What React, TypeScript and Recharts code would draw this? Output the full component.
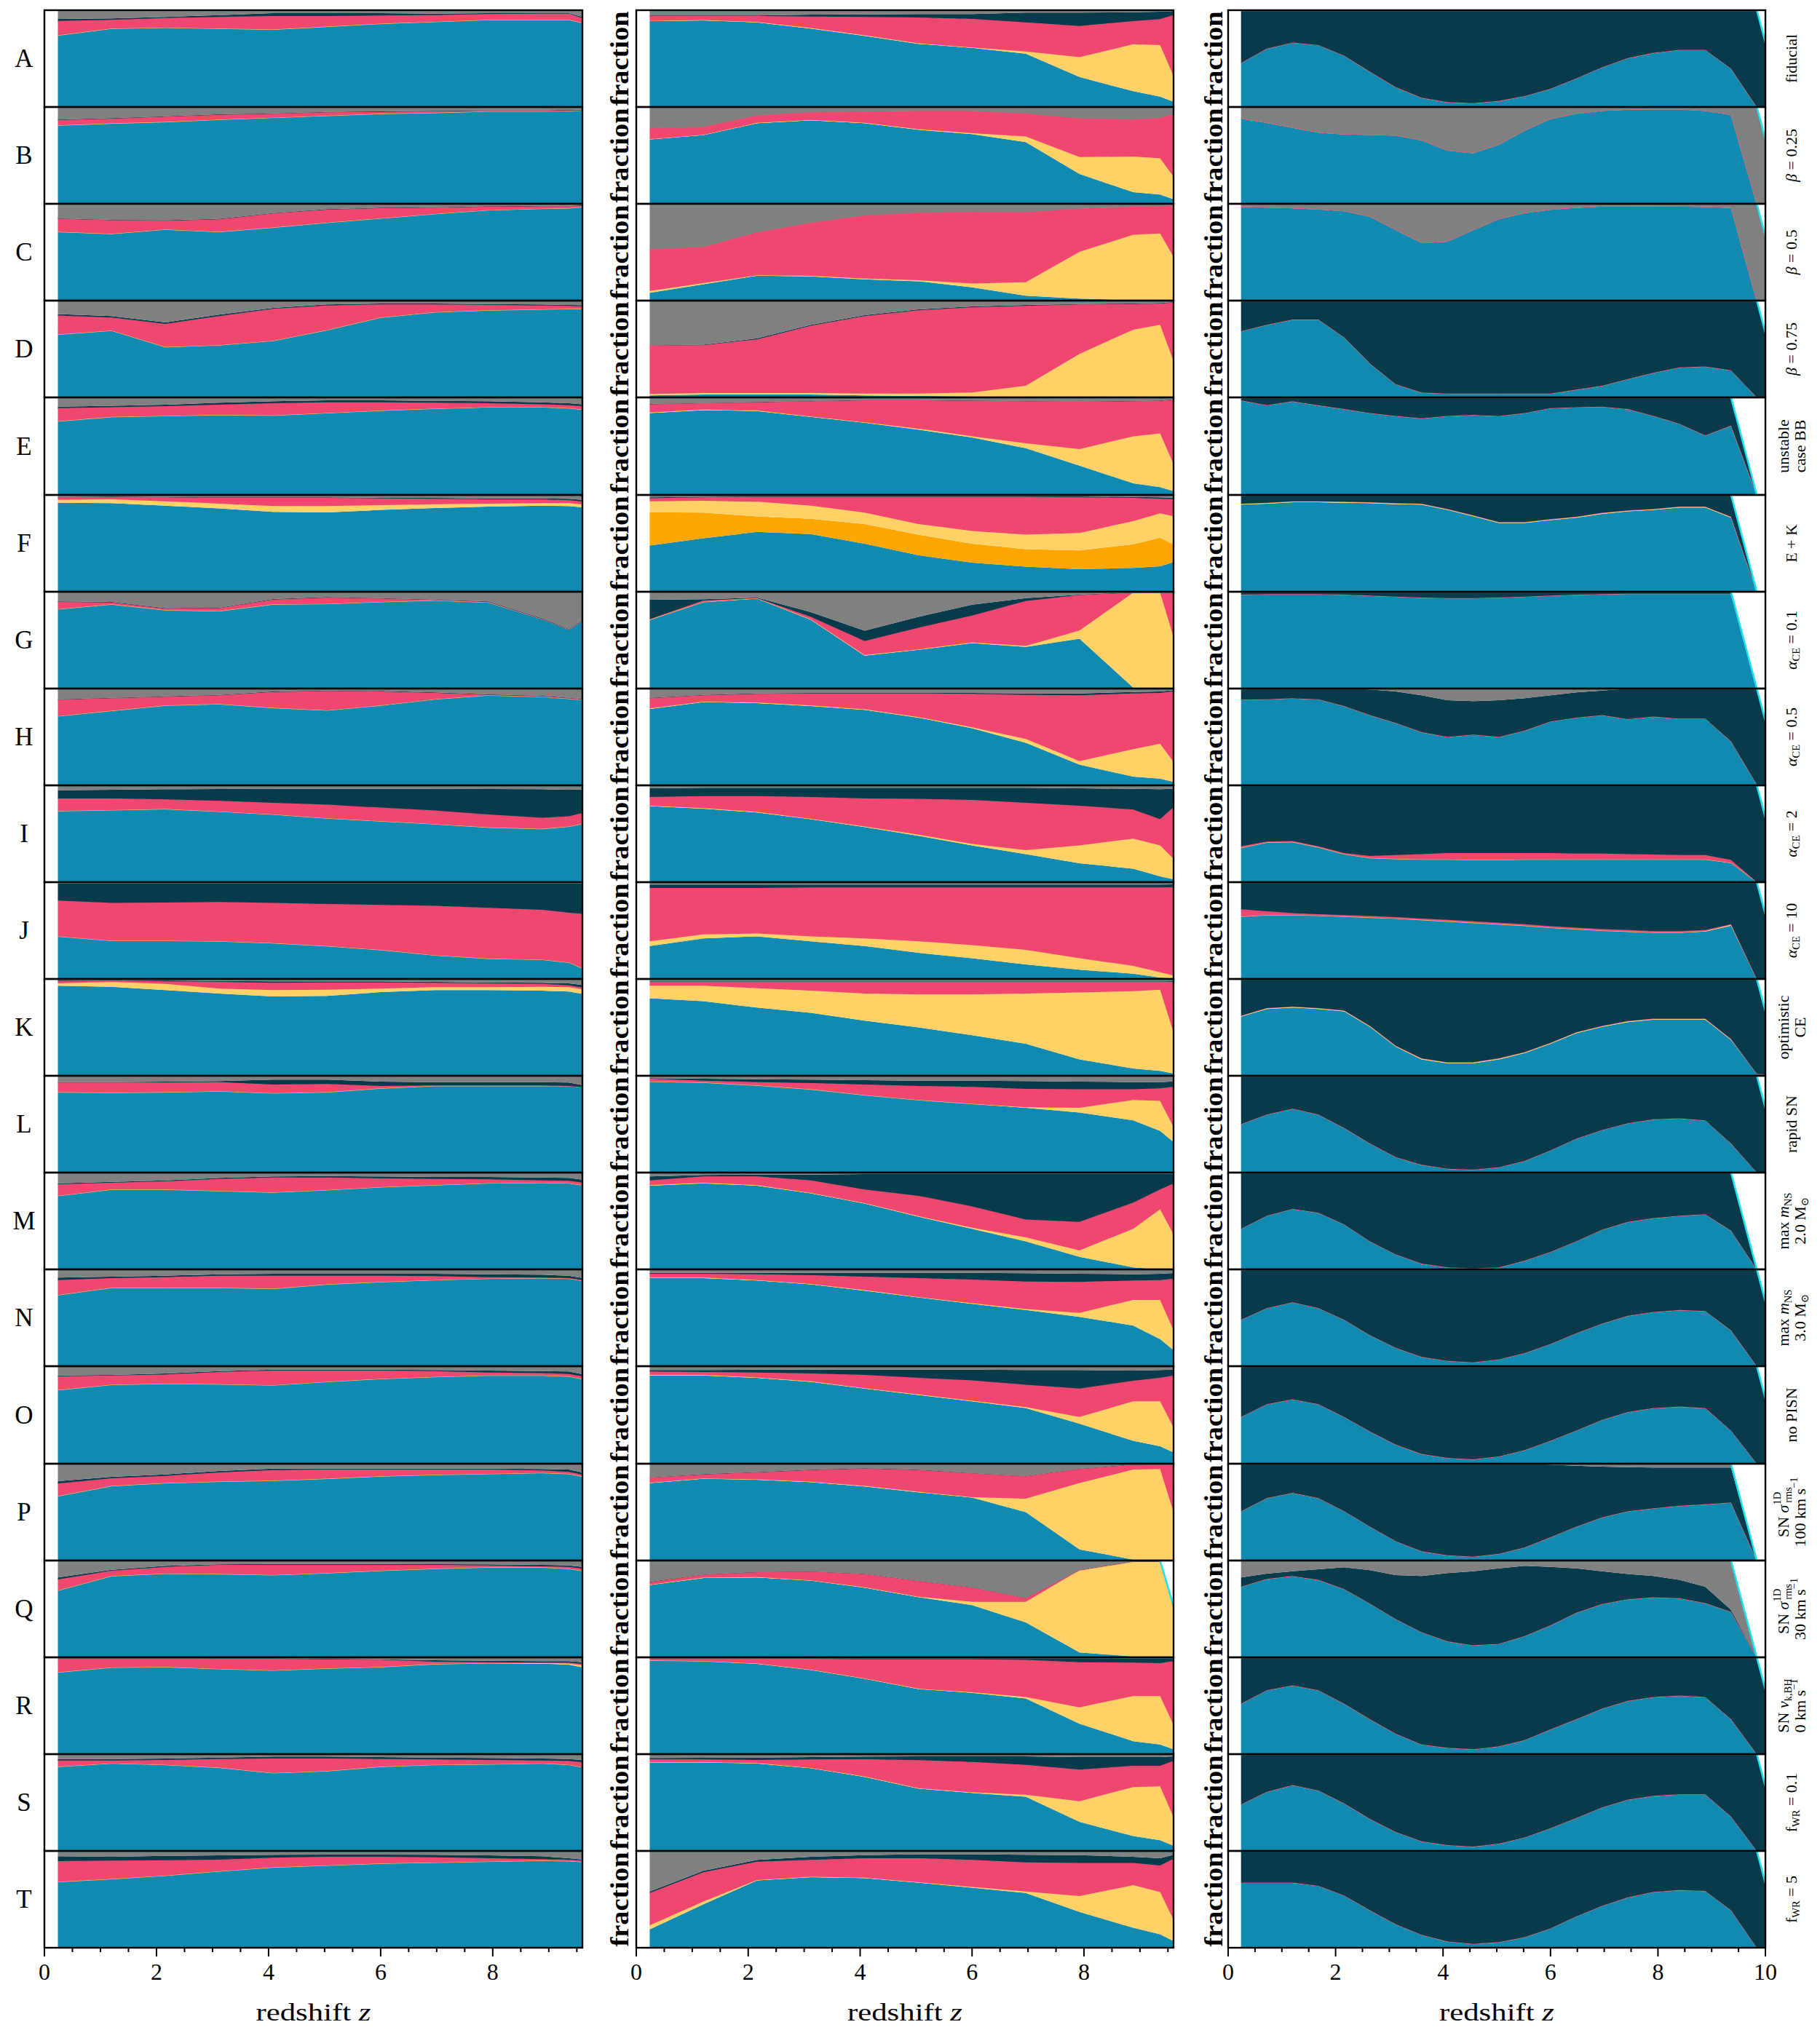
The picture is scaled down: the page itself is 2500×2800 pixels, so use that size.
import React from 'react';
import { AreaChart, Area, XAxis, YAxis } from 'recharts';

// redshift grids (cols 1-2 coarse, col 3 fine)
const Z1 = [0.24, 1.2, 2.16, 3.12, 4.08, 5.04, 6.0, 6.96, 7.92, 8.88, 9.36, 9.84];
const Z3 = [0.24, 0.72, 1.2, 1.68, 2.16, 2.64, 3.12, 3.6, 4.08, 4.56, 5.04, 5.52, 6.0, 6.48, 6.96, 7.44, 7.92, 8.4, 8.88, 9.36, 9.84, 10.32];

const TICKS_96 = [0, 0.5, 1, 1.5, 2, 2.5, 3, 3.5, 4, 4.5, 5, 5.5, 6, 6.5, 7, 7.5, 8, 8.5, 9, 9.5];
const TICKS_10 = [0, 0.5, 1, 1.5, 2, 2.5, 3, 3.5, 4, 4.5, 5, 5.5, 6, 6.5, 7, 7.5, 8, 8.5, 9, 9.5, 10];

const ROW_LETTERS = ['A', 'B', 'C', 'D', 'E', 'F', 'G', 'H', 'I', 'J', 'K', 'L', 'M', 'N', 'O', 'P', 'Q', 'R', 'S', 'T'];

// stacked tops: b = blue, o = orange, y = yellow, p = pink, d = dark, g = total
type Panel = { b: number[]; o?: number[]; y?: number[]; p?: number[]; d?: number[]; g?: number[] };

// column 1
const c1A: Panel = { b: [0.74, 0.81, 0.82, 0.81, 0.80, 0.83, 0.86, 0.88, 0.90, 0.90, 0.90, 0.84], p: [0.89, 0.90, 0.92, 0.93, 0.94, 0.94, 0.945, 0.95, 0.96, 0.965, 0.965, 0.87], d: [0.91, 0.915, 0.93, 0.95, 0.97, 0.97, 0.97, 0.965, 0.97, 0.97, 0.97, 0.89] };
const c1B: Panel = { b: [0.81, 0.83, 0.845, 0.87, 0.89, 0.91, 0.93, 0.94, 0.955, 0.955, 0.96, 0.97], p: [0.865, 0.88, 0.90, 0.92, 0.93, 0.945, 0.95, 0.955, 0.96, 0.96, 0.965, 0.97], d: [0.87, 0.885, 0.905, 0.925, 0.935, 0.95, 0.955, 0.96, 0.965, 0.965, 0.97, 0.975] };
const c1C: Panel = { b: [0.71, 0.69, 0.735, 0.71, 0.755, 0.805, 0.85, 0.895, 0.935, 0.95, 0.955, 0.98], p: [0.845, 0.83, 0.825, 0.84, 0.90, 0.94, 0.955, 0.96, 0.97, 0.975, 0.975, 0.985], d: [0.85, 0.835, 0.83, 0.845, 0.905, 0.945, 0.96, 0.965, 0.975, 0.98, 0.98, 0.99] };
const c1D: Panel = { b: [0.65, 0.69, 0.52, 0.54, 0.585, 0.695, 0.825, 0.88, 0.90, 0.91, 0.915, 0.915], p: [0.845, 0.825, 0.76, 0.84, 0.915, 0.95, 0.96, 0.96, 0.955, 0.95, 0.945, 0.94], d: [0.86, 0.84, 0.775, 0.855, 0.925, 0.96, 0.97, 0.97, 0.965, 0.96, 0.955, 0.95] };
const c1E: Panel = { b: [0.755, 0.80, 0.81, 0.82, 0.815, 0.84, 0.865, 0.885, 0.90, 0.90, 0.89, 0.86], p: [0.89, 0.90, 0.91, 0.925, 0.94, 0.95, 0.95, 0.945, 0.94, 0.93, 0.92, 0.90], d: [0.905, 0.915, 0.925, 0.945, 0.96, 0.97, 0.97, 0.965, 0.96, 0.95, 0.94, 0.92] };
const c1F: Panel = { b: [0.92, 0.915, 0.89, 0.86, 0.825, 0.82, 0.845, 0.865, 0.88, 0.89, 0.885, 0.86], y: [0.95, 0.955, 0.935, 0.91, 0.885, 0.885, 0.895, 0.905, 0.91, 0.915, 0.915, 0.89], p: [0.975, 0.98, 0.975, 0.97, 0.97, 0.97, 0.965, 0.96, 0.955, 0.955, 0.945, 0.92], d: [0.98, 0.985, 0.98, 0.975, 0.975, 0.975, 0.97, 0.97, 0.965, 0.965, 0.96, 0.94] };
const c1G: Panel = { b: [0.82, 0.87, 0.81, 0.80, 0.87, 0.875, 0.895, 0.91, 0.89, 0.72, 0.61, 0.79], p: [0.895, 0.89, 0.825, 0.83, 0.92, 0.94, 0.93, 0.915, 0.895, 0.72, 0.61, 0.79], d: [0.90, 0.895, 0.83, 0.835, 0.925, 0.945, 0.935, 0.92, 0.90, 0.725, 0.615, 0.795] };
const c1H: Panel = { b: [0.715, 0.77, 0.825, 0.84, 0.80, 0.775, 0.825, 0.89, 0.93, 0.915, 0.895, 0.87], p: [0.885, 0.90, 0.915, 0.93, 0.965, 0.975, 0.97, 0.955, 0.935, 0.92, 0.90, 0.875], d: [0.89, 0.905, 0.92, 0.935, 0.97, 0.98, 0.975, 0.96, 0.94, 0.925, 0.905, 0.88] };
const c1I: Panel = { b: [0.735, 0.745, 0.755, 0.73, 0.70, 0.66, 0.63, 0.60, 0.565, 0.55, 0.575, 0.63], p: [0.865, 0.865, 0.855, 0.84, 0.82, 0.80, 0.77, 0.74, 0.70, 0.665, 0.68, 0.75], d: [0.95, 0.955, 0.96, 0.962, 0.965, 0.965, 0.965, 0.965, 0.962, 0.96, 0.955, 0.96] };
const c1J: Panel = { b: [0.44, 0.395, 0.395, 0.39, 0.37, 0.34, 0.30, 0.245, 0.21, 0.20, 0.17, 0.05], p: [0.81, 0.785, 0.79, 0.795, 0.785, 0.775, 0.765, 0.755, 0.735, 0.715, 0.685, 0.66], d: [0.985, 0.985, 0.985, 0.985, 0.985, 0.985, 0.985, 0.985, 0.985, 0.985, 0.985, 0.985] };
const c1K: Panel = { b: [0.93, 0.92, 0.885, 0.85, 0.82, 0.825, 0.865, 0.885, 0.885, 0.88, 0.87, 0.82], y: [0.955, 0.97, 0.95, 0.90, 0.885, 0.89, 0.90, 0.915, 0.915, 0.92, 0.915, 0.87], p: [0.98, 0.985, 0.975, 0.97, 0.96, 0.965, 0.965, 0.96, 0.955, 0.95, 0.935, 0.89], d: [0.985, 0.99, 0.985, 0.98, 0.975, 0.975, 0.975, 0.97, 0.965, 0.96, 0.955, 0.92] };
const c1L: Panel = { b: [0.83, 0.825, 0.83, 0.84, 0.82, 0.83, 0.87, 0.895, 0.895, 0.895, 0.895, 0.87], p: [0.93, 0.93, 0.93, 0.935, 0.91, 0.915, 0.895, 0.90, 0.90, 0.90, 0.895, 0.87], d: [0.935, 0.935, 0.94, 0.945, 0.96, 0.96, 0.94, 0.935, 0.935, 0.935, 0.93, 0.88] };
const c1M: Panel = { b: [0.76, 0.825, 0.825, 0.81, 0.795, 0.82, 0.85, 0.87, 0.89, 0.895, 0.89, 0.85], p: [0.88, 0.895, 0.91, 0.935, 0.95, 0.95, 0.94, 0.935, 0.93, 0.92, 0.915, 0.88], d: [0.89, 0.905, 0.92, 0.945, 0.96, 0.965, 0.96, 0.955, 0.955, 0.95, 0.945, 0.91] };
const c1N: Panel = { b: [0.735, 0.81, 0.81, 0.81, 0.80, 0.845, 0.87, 0.89, 0.905, 0.91, 0.905, 0.86], p: [0.89, 0.91, 0.92, 0.935, 0.935, 0.935, 0.935, 0.93, 0.92, 0.915, 0.91, 0.87], d: [0.915, 0.925, 0.935, 0.95, 0.955, 0.955, 0.955, 0.955, 0.95, 0.945, 0.935, 0.89] };
const c1O: Panel = { b: [0.755, 0.81, 0.82, 0.815, 0.805, 0.84, 0.87, 0.89, 0.905, 0.905, 0.895, 0.84], p: [0.895, 0.905, 0.915, 0.94, 0.955, 0.955, 0.955, 0.95, 0.935, 0.93, 0.92, 0.87], d: [0.905, 0.91, 0.925, 0.95, 0.965, 0.965, 0.965, 0.96, 0.955, 0.95, 0.945, 0.89] };
const c1P: Panel = { b: [0.665, 0.77, 0.80, 0.815, 0.825, 0.845, 0.87, 0.885, 0.895, 0.905, 0.895, 0.84], p: [0.795, 0.85, 0.875, 0.91, 0.935, 0.94, 0.94, 0.94, 0.94, 0.93, 0.915, 0.86], d: [0.82, 0.865, 0.89, 0.925, 0.95, 0.95, 0.95, 0.95, 0.95, 0.945, 0.94, 0.88] };
const c1Q: Panel = { b: [0.69, 0.84, 0.865, 0.86, 0.85, 0.87, 0.895, 0.915, 0.93, 0.93, 0.915, 0.87], p: [0.805, 0.895, 0.935, 0.955, 0.955, 0.955, 0.955, 0.955, 0.95, 0.94, 0.935, 0.90], d: [0.825, 0.905, 0.945, 0.96, 0.965, 0.965, 0.965, 0.962, 0.96, 0.955, 0.95, 0.92] };
const c1R: Panel = { b: [0.845, 0.895, 0.90, 0.88, 0.865, 0.885, 0.90, 0.93, 0.94, 0.935, 0.925, 0.87], y: [0.845, 0.895, 0.90, 0.88, 0.865, 0.885, 0.90, 0.93, 0.94, 0.94, 0.935, 0.90], p: [0.99, 0.99, 0.99, 0.985, 0.985, 0.98, 0.975, 0.955, 0.95, 0.945, 0.945, 0.92], d: [0.992, 0.992, 0.992, 0.99, 0.99, 0.985, 0.98, 0.97, 0.965, 0.96, 0.96, 0.94] };
const c1S: Panel = { b: [0.87, 0.905, 0.89, 0.86, 0.805, 0.825, 0.87, 0.89, 0.895, 0.905, 0.89, 0.84], p: [0.935, 0.935, 0.94, 0.95, 0.955, 0.955, 0.95, 0.945, 0.94, 0.935, 0.93, 0.90], d: [0.95, 0.95, 0.955, 0.965, 0.975, 0.975, 0.97, 0.965, 0.96, 0.955, 0.95, 0.93] };
const c1T: Panel = { b: [0.68, 0.71, 0.745, 0.79, 0.83, 0.85, 0.87, 0.88, 0.89, 0.90, 0.895, 0.88], p: [0.895, 0.90, 0.905, 0.91, 0.93, 0.94, 0.94, 0.935, 0.925, 0.915, 0.91, 0.89], d: [0.945, 0.94, 0.95, 0.955, 0.96, 0.962, 0.962, 0.96, 0.955, 0.945, 0.925, 0.90] };

// column 2
const c2A: Panel = { b: [0.887, 0.895, 0.875, 0.81, 0.735, 0.653, 0.61, 0.55, 0.31, 0.163, 0.108, 0], y: [0.89, 0.898, 0.878, 0.815, 0.74, 0.658, 0.615, 0.573, 0.515, 0.648, 0.64, 0], p: [0.94, 0.94, 0.94, 0.935, 0.93, 0.925, 0.91, 0.875, 0.837, 0.887, 0.907, 0.99], d: [0.945, 0.945, 0.945, 0.955, 0.957, 0.96, 0.96, 0.975, 0.975, 0.98, 0.985, 0.995] };
const c2B: Panel = { b: [0.665, 0.71, 0.833, 0.863, 0.833, 0.765, 0.72, 0.638, 0.308, 0.12, 0.095, 0], y: [0.668, 0.713, 0.836, 0.866, 0.836, 0.77, 0.73, 0.695, 0.483, 0.488, 0.47, 0.09], p: [0.78, 0.795, 0.913, 0.945, 0.953, 0.958, 0.958, 0.933, 0.883, 0.87, 0.888, 0.97], d: [0.78, 0.795, 0.913, 0.945, 0.953, 0.958, 0.958, 0.933, 0.883, 0.87, 0.888, 0.97] };
const c2C: Panel = { b: [0.08, 0.17, 0.257, 0.25, 0.22, 0.20, 0.138, 0.05, 0.02, 0.005, 0, 0], y: [0.10, 0.18, 0.262, 0.255, 0.227, 0.21, 0.176, 0.19, 0.504, 0.68, 0.693, 0.21], p: [0.53, 0.555, 0.705, 0.805, 0.88, 0.907, 0.917, 0.914, 0.952, 0.97, 0.975, 0.99], d: [0.53, 0.555, 0.705, 0.805, 0.88, 0.907, 0.917, 0.914, 0.952, 0.97, 0.975, 0.99] };
const c2D: Panel = { b: [0.02, 0.03, 0.03, 0.03, 0.02, 0.015, 0.01, 0.005, 0, 0, 0, 0], y: [0.035, 0.045, 0.045, 0.045, 0.04, 0.04, 0.05, 0.12, 0.45, 0.70, 0.75, 0], p: [0.537, 0.54, 0.60, 0.74, 0.84, 0.90, 0.93, 0.945, 0.96, 0.965, 0.97, 0.99], d: [0.537, 0.545, 0.61, 0.75, 0.85, 0.91, 0.94, 0.955, 0.965, 0.97, 0.975, 0.995] };
const c2E: Panel = { b: [0.84, 0.87, 0.86, 0.80, 0.74, 0.67, 0.59, 0.48, 0.30, 0.12, 0.08, 0], y: [0.845, 0.875, 0.865, 0.805, 0.745, 0.68, 0.60, 0.53, 0.47, 0.60, 0.63, 0], p: [0.93, 0.94, 0.95, 0.96, 0.97, 0.97, 0.965, 0.96, 0.955, 0.96, 0.965, 0.99], d: [0.933, 0.943, 0.953, 0.963, 0.973, 0.973, 0.968, 0.963, 0.958, 0.963, 0.968, 0.993] };
const c2F: Panel = { b: [0.477, 0.553, 0.618, 0.595, 0.497, 0.377, 0.30, 0.26, 0.234, 0.246, 0.264, 0.35], o: [0.822, 0.817, 0.779, 0.754, 0.70, 0.59, 0.497, 0.44, 0.427, 0.49, 0.558, 0.42], y: [0.935, 0.94, 0.93, 0.89, 0.817, 0.70, 0.628, 0.59, 0.608, 0.73, 0.81, 0.75], p: [0.967, 0.975, 0.98, 0.98, 0.98, 0.98, 0.98, 0.98, 0.975, 0.97, 0.96, 0.955], d: [0.975, 0.982, 0.985, 0.985, 0.985, 0.985, 0.985, 0.985, 0.985, 0.98, 0.975, 0.97] };
const c2G: Panel = { b: [0.709, 0.892, 0.93, 0.71, 0.34, 0.40, 0.47, 0.43, 0.515, 0.01, 0, 0], y: [0.712, 0.895, 0.932, 0.715, 0.345, 0.405, 0.475, 0.44, 0.60, 0.99, 0.99, 0.07], p: [0.716, 0.91, 0.935, 0.74, 0.49, 0.628, 0.754, 0.905, 0.967, 0.99, 0.99, 0.995], d: [0.917, 0.922, 0.94, 0.79, 0.598, 0.74, 0.867, 0.935, 0.97, 0.995, 0.995, 0.995] };
const c2H: Panel = { b: [0.79, 0.86, 0.85, 0.82, 0.78, 0.70, 0.59, 0.44, 0.215, 0.09, 0.07, 0], y: [0.795, 0.865, 0.855, 0.825, 0.785, 0.705, 0.60, 0.48, 0.25, 0.375, 0.43, 0.05], p: [0.90, 0.93, 0.945, 0.95, 0.95, 0.95, 0.945, 0.935, 0.93, 0.95, 0.955, 0.99], d: [0.905, 0.935, 0.95, 0.955, 0.955, 0.955, 0.955, 0.95, 0.95, 0.965, 0.97, 0.995] };
const c2I: Panel = { b: [0.785, 0.76, 0.72, 0.65, 0.57, 0.48, 0.38, 0.29, 0.195, 0.14, 0.06, 0], y: [0.79, 0.765, 0.725, 0.655, 0.575, 0.49, 0.395, 0.33, 0.38, 0.45, 0.38, 0.1], p: [0.88, 0.89, 0.89, 0.88, 0.865, 0.86, 0.85, 0.82, 0.79, 0.75, 0.65, 0.9], d: [0.97, 0.975, 0.975, 0.975, 0.975, 0.975, 0.975, 0.975, 0.97, 0.965, 0.96, 0.97] };
const c2J: Panel = { b: [0.34, 0.42, 0.44, 0.39, 0.34, 0.27, 0.215, 0.15, 0.095, 0.055, 0.015, 0], y: [0.39, 0.46, 0.47, 0.44, 0.42, 0.39, 0.35, 0.30, 0.215, 0.135, 0.07, 0], p: [0.94, 0.94, 0.94, 0.945, 0.945, 0.945, 0.945, 0.945, 0.945, 0.945, 0.945, 0.95], d: [0.975, 0.975, 0.975, 0.975, 0.975, 0.975, 0.975, 0.975, 0.975, 0.975, 0.975, 0.98] };
const c2K: Panel = { b: [0.80, 0.77, 0.705, 0.65, 0.57, 0.50, 0.42, 0.33, 0.17, 0.075, 0.05, 0], y: [0.93, 0.93, 0.905, 0.88, 0.85, 0.84, 0.84, 0.85, 0.86, 0.875, 0.89, 0], p: [0.97, 0.97, 0.97, 0.97, 0.97, 0.97, 0.97, 0.97, 0.97, 0.97, 0.97, 0.97], d: [0.975, 0.975, 0.975, 0.975, 0.975, 0.975, 0.975, 0.975, 0.975, 0.975, 0.975, 0.98] };
const c2L: Panel = { b: [0.94, 0.93, 0.90, 0.86, 0.80, 0.75, 0.71, 0.67, 0.62, 0.54, 0.43, 0.2], y: [0.94, 0.93, 0.90, 0.86, 0.80, 0.75, 0.71, 0.675, 0.67, 0.75, 0.74, 0.2], p: [0.97, 0.95, 0.935, 0.925, 0.91, 0.895, 0.885, 0.865, 0.86, 0.86, 0.87, 0.9], d: [0.975, 0.97, 0.965, 0.96, 0.955, 0.95, 0.95, 0.945, 0.94, 0.935, 0.935, 0.95] };
const c2M: Panel = { b: [0.865, 0.89, 0.865, 0.785, 0.68, 0.545, 0.42, 0.29, 0.13, 0.02, 0, 0], y: [0.87, 0.895, 0.87, 0.79, 0.685, 0.55, 0.43, 0.33, 0.195, 0.42, 0.62, 0.1], p: [0.92, 0.96, 0.96, 0.92, 0.825, 0.76, 0.65, 0.515, 0.49, 0.69, 0.825, 0.95], d: [0.96, 0.975, 0.98, 0.98, 0.985, 0.985, 0.985, 0.985, 0.985, 0.985, 0.985, 0.99] };
const c2N: Panel = { b: [0.91, 0.91, 0.885, 0.845, 0.78, 0.71, 0.645, 0.58, 0.51, 0.42, 0.28, 0.05], y: [0.915, 0.915, 0.89, 0.85, 0.785, 0.715, 0.65, 0.59, 0.55, 0.685, 0.685, 0.05], p: [0.955, 0.955, 0.95, 0.94, 0.925, 0.91, 0.895, 0.875, 0.87, 0.885, 0.89, 0.92], d: [0.965, 0.965, 0.965, 0.965, 0.965, 0.965, 0.965, 0.96, 0.955, 0.95, 0.955, 0.97] };
const c2O: Panel = { b: [0.905, 0.905, 0.88, 0.84, 0.77, 0.705, 0.64, 0.57, 0.41, 0.235, 0.18, 0.05], y: [0.91, 0.91, 0.885, 0.845, 0.775, 0.71, 0.645, 0.58, 0.48, 0.64, 0.64, 0.1], p: [0.945, 0.94, 0.935, 0.925, 0.91, 0.88, 0.855, 0.81, 0.77, 0.85, 0.88, 0.93], d: [0.96, 0.96, 0.965, 0.965, 0.965, 0.965, 0.965, 0.96, 0.96, 0.955, 0.96, 0.97] };
const c2P: Panel = { b: [0.80, 0.845, 0.835, 0.81, 0.765, 0.705, 0.65, 0.50, 0.115, 0.01, 0, 0], y: [0.803, 0.848, 0.838, 0.813, 0.77, 0.71, 0.655, 0.64, 0.80, 0.94, 0.945, 0.05], p: [0.855, 0.89, 0.91, 0.935, 0.95, 0.935, 0.90, 0.87, 0.945, 0.99, 0.993, 0.995], d: [0.858, 0.893, 0.913, 0.938, 0.953, 0.938, 0.903, 0.873, 0.948, 0.993, 0.996, 0.998] };
const c2Q: Panel = { b: [0.748, 0.82, 0.826, 0.793, 0.72, 0.623, 0.54, 0.36, 0.05, 0.01, 0, 0], y: [0.75, 0.823, 0.829, 0.796, 0.723, 0.626, 0.574, 0.574, 0.90, 0.99, 0.99, 0.06], p: [0.777, 0.853, 0.88, 0.885, 0.86, 0.787, 0.72, 0.61, 0.90, 0.99, 0.99, 0.06], d: [0.78, 0.855, 0.882, 0.887, 0.862, 0.79, 0.722, 0.612, 0.902, 0.992, 0.992, 0.06], g: [1, 1, 1, 1, 1, 1, 1, 1, 1, 1, 1, 0.06] };
const c2R: Panel = { b: [0.967, 0.96, 0.935, 0.87, 0.78, 0.673, 0.634, 0.575, 0.314, 0.134, 0.10, 0], y: [0.968, 0.961, 0.936, 0.872, 0.782, 0.676, 0.64, 0.59, 0.484, 0.60, 0.60, 0], p: [0.99, 0.99, 0.99, 0.985, 0.98, 0.98, 0.98, 0.974, 0.95, 0.945, 0.94, 0.98], d: [0.993, 0.993, 0.993, 0.99, 0.99, 0.99, 0.99, 0.99, 0.99, 0.99, 0.99, 0.99] };
const c2S: Panel = { b: [0.915, 0.915, 0.905, 0.856, 0.765, 0.644, 0.60, 0.56, 0.30, 0.154, 0.11, 0], y: [0.917, 0.917, 0.907, 0.858, 0.768, 0.648, 0.605, 0.58, 0.513, 0.66, 0.667, 0.03], p: [0.948, 0.945, 0.94, 0.945, 0.948, 0.938, 0.92, 0.89, 0.84, 0.88, 0.88, 0.98], d: [0.96, 0.962, 0.965, 0.97, 0.975, 0.977, 0.977, 0.977, 0.97, 0.97, 0.97, 0.985] };
const c2T: Panel = { b: [0.19, 0.45, 0.696, 0.73, 0.72, 0.673, 0.62, 0.565, 0.37, 0.206, 0.14, 0], y: [0.232, 0.477, 0.70, 0.733, 0.723, 0.676, 0.628, 0.58, 0.533, 0.647, 0.575, 0], p: [0.565, 0.78, 0.89, 0.908, 0.925, 0.925, 0.908, 0.882, 0.876, 0.876, 0.85, 0.99], d: [0.58, 0.795, 0.908, 0.94, 0.957, 0.967, 0.967, 0.96, 0.957, 0.94, 0.925, 0.995] };

// column 3 totals: the stack falls to zero after the last redshift bin
const TOT_LATE = [1, 1, 1, 1, 1, 1, 1, 1, 1, 1, 1, 1, 1, 1, 1, 1, 1, 1, 1, 1, 1, 0];
const TOT_EARLY = [1, 1, 1, 1, 1, 1, 1, 1, 1, 1, 1, 1, 1, 1, 1, 1, 1, 1, 1, 1, 0, 0];

const c3A: Panel = { g: TOT_LATE, b: [0.455, 0.603, 0.666, 0.64, 0.53, 0.364, 0.204, 0.095, 0.05, 0.04, 0.063, 0.113, 0.188, 0.296, 0.41, 0.505, 0.56, 0.59, 0.59, 0.397, 0, 0] };
const c3Bb = [0.883, 0.838, 0.788, 0.738, 0.72, 0.715, 0.708, 0.658, 0.553, 0.525, 0.613, 0.758, 0.878, 0.933, 0.963, 0.975, 0.978, 0.978, 0.963, 0.92, 0, 0];
const c3B: Panel = { g: TOT_LATE, b: c3Bb, d: c3Bb };
const c3Cb = [0.97, 0.965, 0.957, 0.945, 0.927, 0.87, 0.73, 0.597, 0.612, 0.73, 0.844, 0.907, 0.942, 0.962, 0.975, 0.977, 0.977, 0.975, 0.97, 0.962, 0, 0];
const c3C: Panel = { g: TOT_LATE, b: c3Cb, d: c3Cb };
const c3D: Panel = { g: TOT_LATE, b: [0.685, 0.75, 0.805, 0.805, 0.62, 0.35, 0.135, 0.05, 0.04, 0.04, 0.04, 0.04, 0.04, 0.08, 0.12, 0.19, 0.255, 0.31, 0.32, 0.28, 0, 0] };
const c3E: Panel = { g: TOT_EARLY, b: [0.97, 0.92, 0.96, 0.92, 0.88, 0.84, 0.81, 0.785, 0.81, 0.82, 0.81, 0.84, 0.89, 0.90, 0.905, 0.88, 0.81, 0.73, 0.61, 0.71, 0, 0] };
const c3F: Panel = { g: TOT_EARLY, b: [0.90, 0.91, 0.925, 0.925, 0.92, 0.915, 0.905, 0.90, 0.845, 0.78, 0.71, 0.71, 0.74, 0.765, 0.805, 0.83, 0.845, 0.87, 0.87, 0.765, 0, 0], y: [0.91, 0.92, 0.935, 0.935, 0.93, 0.925, 0.915, 0.91, 0.855, 0.79, 0.72, 0.72, 0.75, 0.775, 0.815, 0.84, 0.855, 0.88, 0.88, 0.775, 0, 0] };
const c3G: Panel = { g: TOT_EARLY, b: [0.97, 0.975, 0.975, 0.975, 0.97, 0.96, 0.95, 0.94, 0.935, 0.935, 0.94, 0.95, 0.96, 0.97, 0.975, 0.98, 0.98, 0.98, 0.98, 0.98, 0, 0] };
const c3H: Panel = { g: TOT_LATE, b: [0.885, 0.89, 0.90, 0.89, 0.82, 0.725, 0.645, 0.55, 0.50, 0.525, 0.50, 0.565, 0.66, 0.70, 0.725, 0.685, 0.71, 0.69, 0.69, 0.455, 0.01, 0], d: [1, 1, 1, 1, 1, 0.99, 0.97, 0.93, 0.88, 0.87, 0.88, 0.90, 0.93, 0.96, 0.98, 1, 1, 1, 1, 1, 1, 0] };
const c3I: Panel = { g: TOT_LATE, b: [0.355, 0.41, 0.415, 0.36, 0.29, 0.25, 0.24, 0.235, 0.235, 0.23, 0.23, 0.235, 0.235, 0.235, 0.235, 0.235, 0.235, 0.235, 0.235, 0.2, 0, 0], p: [0.37, 0.42, 0.425, 0.37, 0.30, 0.27, 0.28, 0.29, 0.30, 0.30, 0.30, 0.30, 0.30, 0.295, 0.295, 0.29, 0.285, 0.28, 0.28, 0.23, 0, 0] };
const c3J: Panel = { g: TOT_LATE, b: [0.645, 0.66, 0.66, 0.655, 0.645, 0.635, 0.625, 0.61, 0.595, 0.58, 0.565, 0.55, 0.53, 0.515, 0.50, 0.49, 0.48, 0.48, 0.49, 0.55, 0, 0], y: [0.645, 0.66, 0.66, 0.655, 0.645, 0.635, 0.625, 0.61, 0.595, 0.58, 0.565, 0.55, 0.53, 0.515, 0.50, 0.49, 0.48, 0.48, 0.495, 0.56, 0, 0], p: [0.72, 0.70, 0.68, 0.67, 0.66, 0.65, 0.64, 0.625, 0.61, 0.595, 0.58, 0.565, 0.545, 0.53, 0.515, 0.505, 0.495, 0.495, 0.505, 0.565, 0, 0] };
const c3K: Panel = { g: TOT_LATE, b: [0.61, 0.69, 0.705, 0.69, 0.665, 0.505, 0.30, 0.17, 0.13, 0.13, 0.17, 0.235, 0.33, 0.44, 0.505, 0.555, 0.58, 0.58, 0.58, 0.37, 0.02, 0], y: [0.62, 0.70, 0.715, 0.70, 0.675, 0.515, 0.31, 0.18, 0.14, 0.14, 0.18, 0.245, 0.34, 0.45, 0.515, 0.565, 0.59, 0.59, 0.59, 0.38, 0.02, 0] };
const c3L: Panel = { g: TOT_LATE, b: [0.50, 0.60, 0.66, 0.60, 0.46, 0.30, 0.16, 0.08, 0.04, 0.03, 0.055, 0.12, 0.23, 0.35, 0.44, 0.51, 0.55, 0.56, 0.54, 0.30, 0, 0] };
const c3M: Panel = { g: TOT_EARLY, b: [0.42, 0.555, 0.625, 0.585, 0.465, 0.29, 0.155, 0.06, 0.02, 0.01, 0.02, 0.09, 0.18, 0.29, 0.41, 0.49, 0.53, 0.555, 0.57, 0.40, 0, 0] };
const c3N: Panel = { g: TOT_LATE, b: [0.48, 0.60, 0.66, 0.60, 0.48, 0.32, 0.19, 0.095, 0.055, 0.04, 0.07, 0.135, 0.23, 0.34, 0.44, 0.52, 0.56, 0.58, 0.57, 0.37, 0, 0] };
const c3O: Panel = { g: TOT_LATE, b: [0.48, 0.61, 0.66, 0.61, 0.48, 0.33, 0.195, 0.10, 0.06, 0.045, 0.075, 0.14, 0.235, 0.34, 0.45, 0.53, 0.57, 0.585, 0.57, 0.34, 0, 0] };
const c3P: Panel = { g: TOT_EARLY, b: [0.51, 0.645, 0.70, 0.645, 0.51, 0.35, 0.20, 0.095, 0.055, 0.04, 0.07, 0.135, 0.24, 0.35, 0.445, 0.51, 0.54, 0.565, 0.58, 0.60, 0, 0], d: [1, 1, 1, 1, 1, 1, 1, 1, 1, 1, 1, 1, 0.99, 0.98, 0.97, 0.965, 0.96, 0.96, 0.96, 0.96, 0, 0] };
const c3Q: Panel = { g: TOT_EARLY, b: [0.73, 0.81, 0.84, 0.80, 0.705, 0.555, 0.395, 0.26, 0.165, 0.125, 0.14, 0.22, 0.33, 0.46, 0.55, 0.60, 0.62, 0.61, 0.56, 0.47, 0, 0], d: [0.825, 0.865, 0.89, 0.91, 0.93, 0.90, 0.85, 0.84, 0.87, 0.89, 0.92, 0.945, 0.935, 0.92, 0.89, 0.86, 0.84, 0.80, 0.73, 0.49, 0, 0] };
const c3R: Panel = { g: TOT_LATE, b: [0.52, 0.66, 0.71, 0.66, 0.52, 0.36, 0.21, 0.10, 0.065, 0.05, 0.08, 0.145, 0.255, 0.36, 0.47, 0.55, 0.59, 0.605, 0.59, 0.36, 0, 0] };
const c3S: Panel = { g: TOT_LATE, b: [0.48, 0.61, 0.68, 0.625, 0.49, 0.33, 0.195, 0.10, 0.06, 0.045, 0.075, 0.14, 0.235, 0.34, 0.45, 0.53, 0.57, 0.585, 0.585, 0.355, 0, 0] };
const c3T: Panel = { g: TOT_LATE, b: [0.673, 0.673, 0.673, 0.64, 0.54, 0.387, 0.243, 0.134, 0.066, 0.04, 0.058, 0.109, 0.20, 0.324, 0.433, 0.52, 0.577, 0.595, 0.587, 0.387, 0, 0] };

const COL1 = [c1A, c1B, c1C, c1D, c1E, c1F, c1G, c1H, c1I, c1J, c1K, c1L, c1M, c1N, c1O, c1P, c1Q, c1R, c1S, c1T];
const COL2 = [c2A, c2B, c2C, c2D, c2E, c2F, c2G, c2H, c2I, c2J, c2K, c2L, c2M, c2N, c2O, c2P, c2Q, c2R, c2S, c2T];
const COL3 = [c3A, c3B, c3C, c3D, c3E, c3F, c3G, c3H, c3I, c3J, c3K, c3L, c3M, c3N, c3O, c3P, c3Q, c3R, c3S, c3T];

const COLOR = {
  blue: '#118ab2', orange: '#ffa600', yellow: '#ffd166', pink: '#ef476f',
  dark: '#073b4c', gray: '#808080', edge: '#18e4f2',
};
const SERIES: [keyof typeof COLOR][] = [['blue'], ['orange'], ['yellow'], ['pink'], ['dark'], ['gray'], ['edge']];

const COLS = [
  { x: 61, w: 739, max: 9.6, z: Z1, panels: COL1 },
  { x: 874, w: 738, max: 9.6, z: Z1, panels: COL2 },
  { x: 1687, w: 738, max: 10, z: Z3, panels: COL3 },
];
const rowY = (r: number) => Math.round(14 + r * 133.1);
const AXIS_H = 110;
const PAD = 30; // side room so edge tick labels are not cut
const SERIF = "'Liberation Serif', 'DejaVu Serif', serif";

// turn stacked tops into per-layer values for recharts stacking
function build(z: number[], s: Panel) {
  return z.map((zz, i) => {
    const g = s.g ? s.g[i] : 1;
    const cap = (v: number, lo: number) => Math.min(Math.max(v, lo), g);
    const b = cap(s.b[i], 0);
    const o = cap(s.o ? s.o[i] : b, b);
    const y = cap(s.y ? s.y[i] : o, o);
    const p = cap(s.p ? s.p[i] : y, y);
    const d = cap(s.d ? s.d[i] : g, p);
    return { z: zz, blue: b, orange: o - b, yellow: y - o, pink: p - y, dark: d - p, gray: g - d, edge: 0 };
  });
}

function ZTick(props: any) {
  const { x, y, payload } = props;
  const v = payload.value;
  const major = Math.abs(v / 2 - Math.round(v / 2)) < 1e-6;
  return (
    <g>
      <line x1={x} x2={x} y1={y} y2={y + (major ? 12 : 6)} stroke="#000" strokeWidth={2} />
      {major && (
        <text x={x} y={y + 44} textAnchor="middle" fontSize={32} fontFamily={SERIF} fill="#000">{v}</text>
      )}
    </g>
  );
}

function PanelChart({ data, w, h, max, bottom }: { data: any[]; w: number; h: number; max: number; bottom: boolean }) {
  return (
    <AreaChart width={w + 2 * PAD} height={h + (bottom ? AXIS_H : 0)} data={data} margin={{ top: 0, right: PAD, bottom: 0, left: PAD }}>
      <XAxis type="number" dataKey="z" domain={[0, max]} allowDataOverflow hide={!bottom}
        ticks={max === 10 ? TICKS_10 : TICKS_96} interval={0} tickSize={0} tickMargin={0}
        axisLine={false} tickLine={false} tick={<ZTick />} height={bottom ? AXIS_H : 0} />
      <YAxis type="number" domain={[0, 1]} allowDataOverflow hide />
      {SERIES.map(([key]) => (
        <Area key={key} type="linear" dataKey={key} stackId="s"
          fill={key === 'edge' ? 'none' : COLOR[key]} fillOpacity={1}
          stroke={key === 'edge' || key === 'yellow' || key === 'pink' ? COLOR[key] : 'none'}
          strokeWidth={key === 'edge' ? 2.5 : 1}
          dot={false} activeDot={false} isAnimationActive={false} />
      ))}
    </AreaChart>
  );
}

type Seg = { t: string; s?: 'sub' | 'sup'; i?: boolean; dx?: number };
const eqA = (v: string): Seg[] => [{ t: 'α', i: true }, { t: 'CE', s: 'sub' }, { t: ` = ${v}` }];
const eqF = (v: string): Seg[] => [{ t: 'f' }, { t: 'WR', s: 'sub' }, { t: ` = ${v}` }];
const eqB = (v: string): Seg[] => [{ t: 'β', i: true }, { t: ` = ${v}` }];
const sig: Seg[] = [{ t: 'SN ' }, { t: 'σ', i: true }, { t: '1D', s: 'sup' }, { t: 'rms', s: 'sub', dx: -15 }];
const kms = (v: string): Seg[] => [{ t: `${v} km s` }, { t: '−1', s: 'sup' }];
const mns = (v: string): Seg[][] => [[{ t: 'max ' }, { t: 'm', i: true }, { t: 'NS', s: 'sub' }], [{ t: `${v} M` }, { t: '⊙', s: 'sub' }]];

const RIGHT_LABELS: Seg[][][] = [
  [[{ t: 'fiducial' }]],
  [eqB('0.25')], [eqB('0.5')], [eqB('0.75')],
  [[{ t: 'unstable' }], [{ t: 'case BB' }]],
  [[{ t: 'E + K' }]],
  [eqA('0.1')], [eqA('0.5')], [eqA('2')], [eqA('10')],
  [[{ t: 'optimistic' }], [{ t: 'CE' }]],
  [[{ t: 'rapid SN' }]],
  mns('2.0'), mns('3.0'),
  [[{ t: 'no PISN' }]],
  [sig, kms('100')], [sig, kms('30')],
  [[{ t: 'SN ' }, { t: 'v', i: true }, { t: 'k,BH', s: 'sub' }], kms('0')],
  [eqF('0.1')], [eqF('5')],
];

function Rich({ segs, size }: { segs: Seg[]; size: number }) {
  let shift = 0;
  return (
    <>
      {segs.map((sg, i) => {
        const target = sg.s === 'sub' ? size * 0.3 : sg.s === 'sup' ? -size * 0.38 : 0;
        const dy = target - shift;
        shift = target;
        return (
          <tspan key={i} dy={dy} dx={sg.dx} fontSize={sg.s ? size * 0.66 : size} fontStyle={sg.i ? 'italic' : undefined}>{sg.t}</tspan>
        );
      })}
    </>
  );
}

function Overlay() {
  const rows = ROW_LETTERS.map((_, r) => ({ top: rowY(r), h: rowY(r + 1) - rowY(r) }));
  return (
    <svg width={2500} height={2800} style={{ position: 'absolute', left: 0, top: 0, pointerEvents: 'none' }}>
      {COLS.map((c, ci) => rows.map((rw, r) => (
        <rect key={`f${ci}-${r}`} x={c.x} y={rw.top} width={c.w} height={rw.h} fill="none" stroke="#000" strokeWidth={2.4} />
      )))}
      {rows.map((rw, r) => (
        <text key={`l${r}`} x={33} y={rw.top + rw.h / 2} textAnchor="middle" dominantBaseline="central" fontSize={35} fontFamily={SERIF} fill="#000">{ROW_LETTERS[r]}</text>
      ))}
      {[851, 1667].map((cx) => rows.map((rw, r) => (
        <text key={`fr${cx}-${r}`} transform={`translate(${cx},${rw.top + rw.h / 2}) rotate(-90)`} textAnchor="middle" dominantBaseline="central"
          fontSize={36} fontWeight="bold" fontFamily={SERIF} textLength={130} lengthAdjust="spacingAndGlyphs" fill="#000">fraction</text>
      )))}
      {RIGHT_LABELS.map((lines, r) => lines.map((segs, li) => {
        const cx = lines.length === 1 ? 2460 : li === 0 ? 2449 : 2472;
        const cy = rows[r].top + rows[r].h / 2;
        return (
          <text key={`r${r}-${li}`} transform={`translate(${cx},${cy}) rotate(-90)`} textAnchor="middle" dominantBaseline="central"
            fontSize={22} fontFamily={SERIF} fill="#000">
            <Rich segs={segs} size={22} />
          </text>
        );
      }))}
      {COLS.map((c, ci) => (
        <text key={`ax${ci}`} x={c.x + c.w / 2} y={2776} textAnchor="middle" fontSize={33} fontFamily={SERIF} fill="#000"
          textLength={158} lengthAdjust="spacingAndGlyphs">
          redshift <tspan fontStyle="italic">z</tspan>
        </text>
      ))}
    </svg>
  );
}

export default function App() {
  return (
    <div style={{ position: 'absolute', left: 0, top: 0, width: 2500, height: 2800, background: '#fff' }}>
      {COLS.map((c, ci) => c.panels.map((pn, r) => {
        const top = rowY(r);
        const h = rowY(r + 1) - top;
        return (
          <div key={`${ci}-${r}`} style={{ position: 'absolute', left: c.x - PAD, top }}>
            <PanelChart data={build(c.z, pn)} w={c.w} h={h} max={c.max} bottom={r === 19} />
          </div>
        );
      }))}
      <Overlay />
    </div>
  );
}
